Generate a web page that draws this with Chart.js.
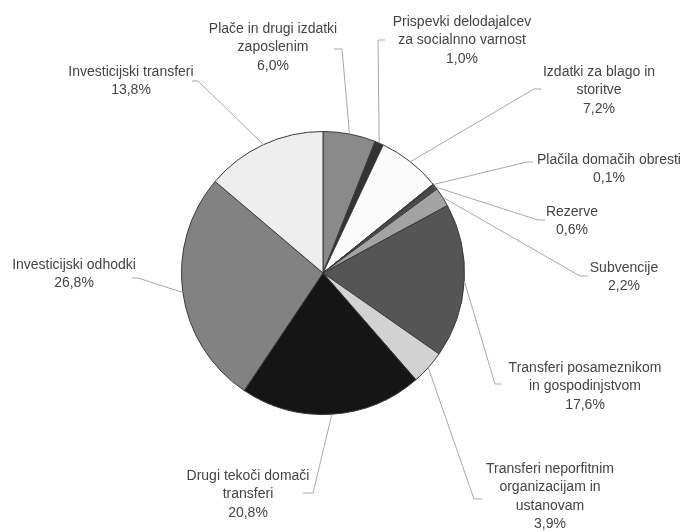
<!DOCTYPE html>
<html>
<head>
<meta charset="utf-8">
<script src="https://cdn.jsdelivr.net/npm/chart.js@4/dist/chart.umd.min.js"></script>
<style>
  html, body { margin: 0; padding: 0; background: #fff; }
</style>
</head>
<body>
<canvas id="myChart" width="684" height="532"></canvas>
<script>
var categories = [
  ["Plače in drugi izdatki", "zaposlenim"],
  ["Prispevki delodajalcev", "za socialnno varnost"],
  ["Izdatki za blago in", "storitve"],
  ["Plačila domačih obresti"],
  ["Rezerve"],
  ["Subvencije"],
  ["Transferi posameznikom", "in gospodinjstvom"],
  ["Transferi neporfitnim", "organizacijam in", "ustanovam"],
  ["Drugi tekoči domači", "transferi"],
  ["Investicijski odhodki"],
  ["Investicijski transferi"]
];
var shares = [6.0, 1.0, 7.2, 0.1, 0.6, 2.2, 17.6, 3.9, 20.8, 26.8, 13.8];
var sliceColors = ["#8a8a8a", "#333333", "#fbfbfb", "#222222", "#4a4a4a", "#a3a3a3",
                   "#555555", "#d2d2d2", "#151515", "#828282", "#eeeeee"];

// label placement: text centre x, first line y, elbow x, elbow y, tail x
var labelSpots = [
  [273, 29, 342, 49, 334],
  [462, 22, 378, 40, 385],
  [599, 72, 534, 89, 541],
  [609, 160, 527, 162, 533],
  [572, 212, 538, 220, 545],
  [624, 268, 580, 276, 588],
  [585, 368, 495, 384, 502],
  [550, 469, 474, 499, 482],
  [248, 476, 313, 493, 303],
  [74, 265, 138, 278, 132],
  [131, 72, 198, 81, 192]
];

var calloutPlugin = {
  id: "callouts",
  afterDraw: function(chart) {
    var ctx = chart.ctx;
    var arcs = chart.getDatasetMeta(0).data;
    ctx.save();
    arcs.forEach(function(arc, i) {
      var p = arc.getProps(["x", "y", "startAngle", "endAngle", "outerRadius"], true);
      var mid = (p.startAngle + p.endAngle) / 2;
      var ax = p.x + Math.cos(mid) * p.outerRadius;
      var ay = p.y + Math.sin(mid) * p.outerRadius;
      var s = labelSpots[i];
      ctx.strokeStyle = "#a8a8a8";
      ctx.lineWidth = 1;
      ctx.beginPath();
      ctx.moveTo(ax, ay);
      ctx.lineTo(s[2], s[3]);
      ctx.lineTo(s[4], s[3]);
      ctx.stroke();

      var lines = categories[i].concat([shares[i].toFixed(1).replace(".", ",") + "%"]);
      ctx.fillStyle = "#444";
      ctx.font = "14px 'Liberation Sans', Arial, sans-serif";
      ctx.textAlign = "center";
      ctx.textBaseline = "middle";
      lines.forEach(function(t, k) {
        ctx.fillText(t, s[0], s[1] + k * 18.5);
      });
    });
    ctx.restore();
  }
};

new Chart("myChart", {
  type: "pie",
  data: {
    labels: categories,
    datasets: [{
      data: shares,
      backgroundColor: sliceColors,
      borderColor: "#3a3a3a",
      borderWidth: 1
    }]
  },
  options: {
    responsive: false,
    animation: false,
    layout: { padding: { top: 131, bottom: 117, left: 162, right: 200 } },
    plugins: {
      legend: { display: false },
      tooltip: { enabled: false }
    }
  },
  plugins: [calloutPlugin]
});
</script>
</body>
</html>
